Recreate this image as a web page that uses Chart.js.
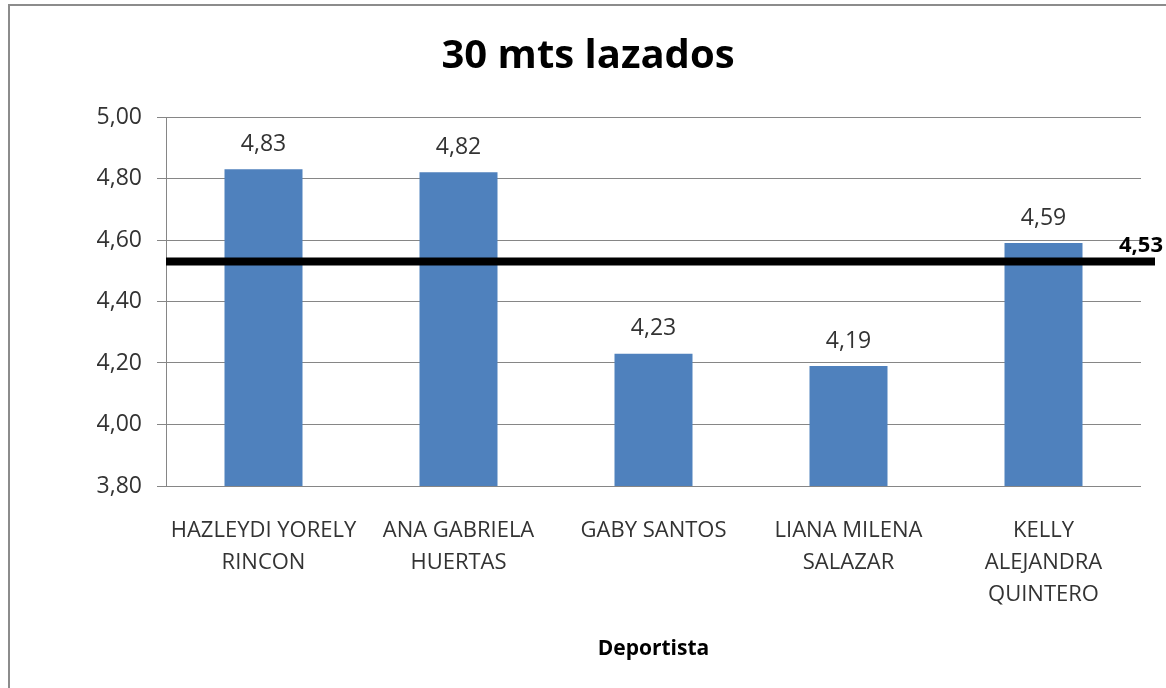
<!DOCTYPE html>
<html>
<head>
<meta charset="utf-8">
<script src="https://cdn.jsdelivr.net/npm/chart.js@4"></script>
<style>
  html, body { margin: 0; padding: 0; background: #fff; overflow: hidden; }
  #wrap { width: 1166px; height: 688px; }
</style>
</head>
<body>
<div id="wrap"><canvas id="chart" width="1166" height="688"></canvas></div>
<script>
// datos de la grafica
const deportistas = [
    ['HAZLEYDI YORELY', 'RINCON'],
    ['ANA GABRIELA', 'HUERTAS'],
    'GABY SANTOS',
    ['LIANA MILENA', 'SALAZAR'],
    ['KELLY', 'ALEJANDRA', 'QUINTERO']
];
const tiempos = [4.83, 4.82, 4.23, 4.19, 4.59];
const promedio = 4.53;
const yTicks = [3.8, 4.0, 4.2, 4.4, 4.6, 4.8, 5.0];

const fuente = '"Open Sans", "Liberation Sans", sans-serif';
const gris = '#868686';

function coma(v) {
    return v.toFixed(2).replace('.', ',');
}

// marco gris alrededor del grafico
const marco = {
    id: 'marco',
    beforeDraw(chart) {
        const ctx = chart.ctx;
        ctx.save();
        ctx.strokeStyle = '#8c8c8c';
        ctx.lineWidth = 2;
        ctx.strokeRect(9, 5, chart.width + 20, chart.height + 20);
        ctx.restore();
    }
};

// etiquetas de valor encima de cada barra
const etiquetas = {
    id: 'etiquetas',
    afterDatasetsDraw(chart) {
        const ctx = chart.ctx;
        const meta = chart.getDatasetMeta(0);
        ctx.save();
        ctx.font = '23px ' + fuente;
        ctx.fillStyle = '#333';
        ctx.textAlign = 'center';
        ctx.textBaseline = 'middle';
        meta.data.forEach((bar, i) => {
            ctx.fillText(coma(tiempos[i]), bar.x, bar.y - 25);
        });
        ctx.restore();
    }
};

// linea negra del promedio
const lineaPromedio = {
    id: 'lineaPromedio',
    afterDatasetsDraw(chart) {
        const ctx = chart.ctx;
        const area = chart.chartArea;
        const y = chart.scales.y.getPixelForValue(promedio);
        ctx.save();
        ctx.strokeStyle = '#000';
        ctx.lineWidth = 8;
        ctx.beginPath();
        ctx.moveTo(area.left, y);
        ctx.lineTo(area.right + 14, y);
        ctx.stroke();
        ctx.font = 'bold 22px ' + fuente;
        ctx.fillStyle = '#000';
        ctx.textAlign = 'right';
        ctx.textBaseline = 'middle';
        ctx.fillText(coma(promedio), 1163, y - 16);
        ctx.restore();
    }
};

new Chart(document.getElementById('chart'), {
    type: 'bar',
    data: {
        labels: deportistas,
        datasets: [{
            data: tiempos,
            backgroundColor: '#4F81BD',
            categoryPercentage: 1,
            barPercentage: 0.4
        }]
    },
    options: {
        responsive: false,
        animation: false,
        devicePixelRatio: 1,
        layout: { padding: { left: 35, right: 25, top: 0, bottom: 0 } },
        plugins: {
            legend: { display: false },
            tooltip: { enabled: false },
            title: {
                display: true,
                text: '30 mts lazados',
                color: '#000',
                font: { family: fuente, size: 40, weight: 'bold', lineHeight: 1.2 },
                padding: { top: 33, bottom: 36 }
            }
        },
        scales: {
            x: {
                grid: { display: false },
                border: { display: false },
                ticks: {
                    color: '#333',
                    padding: 21,
                    maxRotation: 0,
                    autoSkip: false,
                    font: { family: fuente, size: 22, lineHeight: 32 / 22 }
                },
                title: {
                    display: true,
                    text: 'Deportista',
                    color: '#000',
                    font: { family: fuente, size: 21, weight: 'bold', lineHeight: 1.2 },
                    padding: { top: 0, bottom: 26 }
                },
                afterFit(scale) { scale.height = 202; }
            },
            y: {
                min: 3.8,
                max: 5.0,
                afterBuildTicks(scale) {
                    scale.ticks = yTicks.map(v => ({ value: v }));
                },
                grid: { color: gris, lineWidth: 1, tickLength: 9 },
                border: { color: gris, width: 1 },
                ticks: {
                    color: '#333',
                    padding: 15,
                    font: { family: fuente, size: 23 },
                    callback: v => coma(v)
                },
                afterFit(scale) { scale.width = 131; }
            }
        }
    },
    plugins: [marco, etiquetas, lineaPromedio]
});
</script>
</body>
</html>
